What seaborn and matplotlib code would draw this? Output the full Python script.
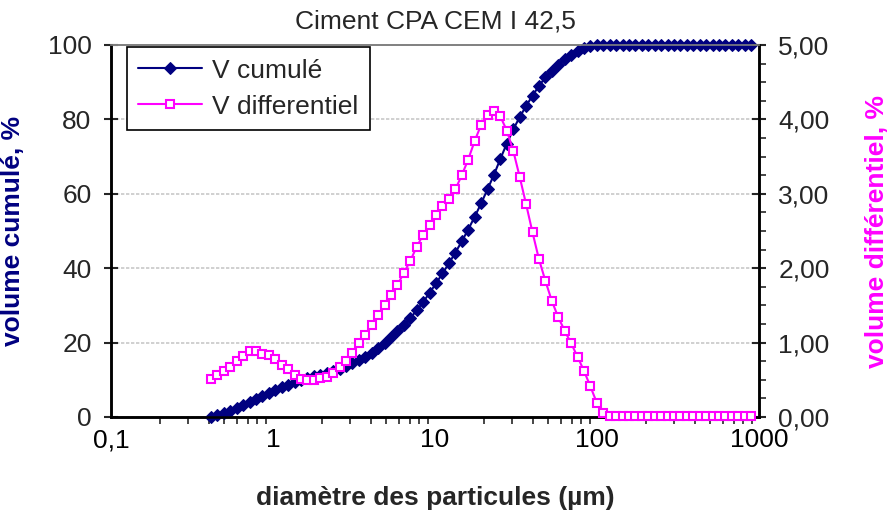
import matplotlib
matplotlib.use("Agg")
import matplotlib.pyplot as plt
from matplotlib.ticker import FixedLocator, FixedFormatter, NullFormatter
import seaborn as sns
import pandas as pd

# ---------------- data ----------------
diametre = [0.414, 0.4536, 0.4970, 0.5445, 0.5967, 0.6538, 0.7164, 0.7850, 0.8602, 0.9426,
            1.033, 1.132, 1.240, 1.359, 1.489, 1.632, 1.788, 1.959, 2.147, 2.352,
            2.576, 2.823, 3.093, 3.389, 3.714, 4.069, 4.459, 4.886, 5.353, 5.866,
            6.427, 7.043, 7.717, 8.455, 9.265, 10.15, 11.12, 12.19, 13.36, 14.63,
            16.03, 17.57, 19.25, 21.09, 23.11, 25.32, 27.75, 30.40, 33.31, 36.50,
            40.00, 43.83, 48.02, 52.62, 57.66, 63.17, 69.22, 75.85, 83.11, 91.07,
            99.77, 109.3, 119.8, 131.3, 143.8, 157.6, 172.7, 189.2, 207.3, 227.2,
            248.9, 272.7, 298.9, 327.5, 358.8, 393.2, 430.8, 472.1, 517.3, 566.7,
            621.0, 680.5, 745.6, 816.9, 895.1]

v_cumule = [0.0, 0.5, 1.1, 1.7, 2.3, 3.1, 3.9, 4.8, 5.6, 6.5,
            7.3, 8.0, 8.7, 9.4, 9.9, 10.4, 10.9, 11.4, 11.9, 12.4,
            13.0, 13.7, 14.4, 15.3, 16.2, 17.3, 18.5, 19.9, 21.4, 23.0,
            24.7, 26.6, 28.7, 30.9, 33.4, 35.9, 38.6, 41.3, 44.2, 47.2,
            50.4, 53.8, 57.4, 61.2, 65.1, 69.4, 73.5, 77.3, 80.6, 83.6,
            86.4, 89.0, 91.3, 93.1, 94.7, 96.2, 97.3, 98.3, 99.3, 99.8,
            100, 100, 100, 100, 100, 100, 100, 100, 100, 100,
            100, 100, 100, 100, 100, 100, 100, 100, 100, 100,
            100, 100, 100, 100, 100]

v_diff = [0.515, 0.565, 0.62, 0.676, 0.75, 0.82, 0.89, 0.89, 0.85, 0.83,
          0.78, 0.70, 0.645, 0.565, 0.507, 0.493, 0.493, 0.52, 0.54, 0.59,
          0.668, 0.753, 0.86, 1.0, 1.10, 1.24, 1.37, 1.505, 1.64, 1.774,
          1.94, 2.10, 2.29, 2.45, 2.58, 2.715, 2.83, 2.93, 3.06, 3.25,
          3.46, 3.71, 3.925, 4.06, 4.11, 4.04, 3.85, 3.58, 3.23, 2.86,
          2.48, 2.12, 1.83, 1.56, 1.34, 1.16, 0.99, 0.81, 0.62, 0.41,
          0.19, 0.06, 0.02, 0.02, 0.02, 0.02, 0.02, 0.02, 0.02, 0.02,
          0.02, 0.02, 0.02, 0.02, 0.02, 0.02, 0.02, 0.02, 0.02, 0.02,
          0.02, 0.02, 0.02, 0.02, 0.02]

x_ticks = [0.1, 1, 10, 100, 1000]
x_tick_labels = ["0,1", "1", "10", "100", "1000"]
y_left_ticks = [0, 20, 40, 60, 80, 100]
y_right_ticks = [0, 1, 2, 3, 4, 5]
y_right_labels = ["0,00", "1,00", "2,00", "3,00", "4,00", "5,00"]

title = "Ciment CPA CEM I 42,5"
xlabel = "diamètre des particules (µm)"
ylabel_left = "volume cumulé, %"
ylabel_right = "volume différentiel, %"
label_cum = "V cumulé"
label_diff = "V differentiel"

NAVY = "#000080"
MAGENTA = "#FF00FF"
FS = 19

df = pd.DataFrame({"d": diametre, "cum": v_cumule, "diff": v_diff})

# ---------------- figure ----------------
sns.set_style("white")
plt.rcParams["font.family"] = ["Liberation Sans", "DejaVu Sans"]

fig = plt.figure(figsize=(8.89, 5.18), dpi=100)
ax = fig.add_axes([111 / 889, 1 - 417 / 518, 648 / 889, 372 / 518])
ax2 = ax.twinx()

sns.lineplot(data=df, x="d", y="cum", ax=ax, color=NAVY, linewidth=1.5,
             marker="D", markersize=6.5, markeredgecolor=NAVY, markerfacecolor=NAVY,
             label=label_cum, legend=False, zorder=3)
sns.lineplot(data=df, x="d", y="diff", ax=ax2, color=MAGENTA, linewidth=1.5,
             marker="s", markersize=6, markeredgecolor=MAGENTA, markerfacecolor="white",
             markeredgewidth=1.5, label=label_diff, legend=False, zorder=3)
for ln in ax.lines + ax2.lines:
    ln.set_clip_on(False)

ax.set_xscale("log")
ax.set_xlim(0.1, 1000)
ax.set_ylim(0, 100)
ax2.set_ylim(0, 5)

# grid
ax.set_yticks(y_left_ticks)
ax.yaxis.grid(True, color="#c8c8c8", linestyle=(0, (2, 1)), linewidth=1.2)
ax.xaxis.grid(False)
ax.set_axisbelow(True)

# ticks
ax.xaxis.set_major_locator(FixedLocator(x_ticks))
ax.xaxis.set_major_formatter(FixedFormatter(x_tick_labels))
ax.xaxis.set_minor_formatter(NullFormatter())
ax.tick_params(axis="x", which="major", direction="inout", length=10, width=1.5,
               labelsize=FS, pad=3, colors="black")
ax.tick_params(axis="x", which="minor", direction="out", length=5, width=1.2,
               bottom=True)
ax.tick_params(axis="y", which="major", direction="inout", length=10, width=1.5,
               labelsize=FS, pad=9, left=True)
ax2.yaxis.set_major_locator(FixedLocator(y_right_ticks))
ax2.yaxis.set_major_formatter(FixedFormatter(y_right_labels))
ax2.yaxis.set_minor_locator(FixedLocator([v / 4 for v in range(0, 21)]))
ax2.tick_params(axis="y", which="major", direction="inout", length=10, width=1.5,
                labelsize=FS, pad=9, right=True)
ax2.tick_params(axis="y", which="minor", direction="out", length=5, width=1.2,
                right=True)

for a in (ax, ax2):
    for side in ("left", "bottom", "right"):
        a.spines[side].set_color("black")
        a.spines[side].set_linewidth(1.8)
    a.spines["top"].set_color("#808080")
    a.spines["top"].set_linewidth(1.2)

ax.set_xlabel(xlabel, fontsize=FS, fontweight="bold")
ax.xaxis.set_label_coords(0.5, (417 - 486) / 372)
ax.set_ylabel(ylabel_left, fontsize=FS, fontweight="bold", color=NAVY)
ax.yaxis.set_label_coords((25 - 111) / 648, 0.5)
ax2.set_ylabel(ylabel_right, fontsize=FS, fontweight="bold", color=MAGENTA, rotation=90)
ax2.yaxis.set_label_coords((865 - 111) / 648, 0.5)
ax.set_title(title, fontsize=FS, pad=12)

h1, l1 = ax.get_legend_handles_labels()
h2, l2 = ax2.get_legend_handles_labels()
leg = ax2.legend(h1 + h2, l1 + l2, loc="upper left", bbox_to_anchor=(0.024, 0.995),
                 borderaxespad=0, fontsize=FS, frameon=True, fancybox=False,
                 edgecolor="black", framealpha=1, handlelength=2.4,
                 borderpad=0.45, labelspacing=0.45, handletextpad=0.4)
leg.get_frame().set_linewidth(1.2)
leg.set_zorder(10)

fig.savefig("out.png", dpi=100)
